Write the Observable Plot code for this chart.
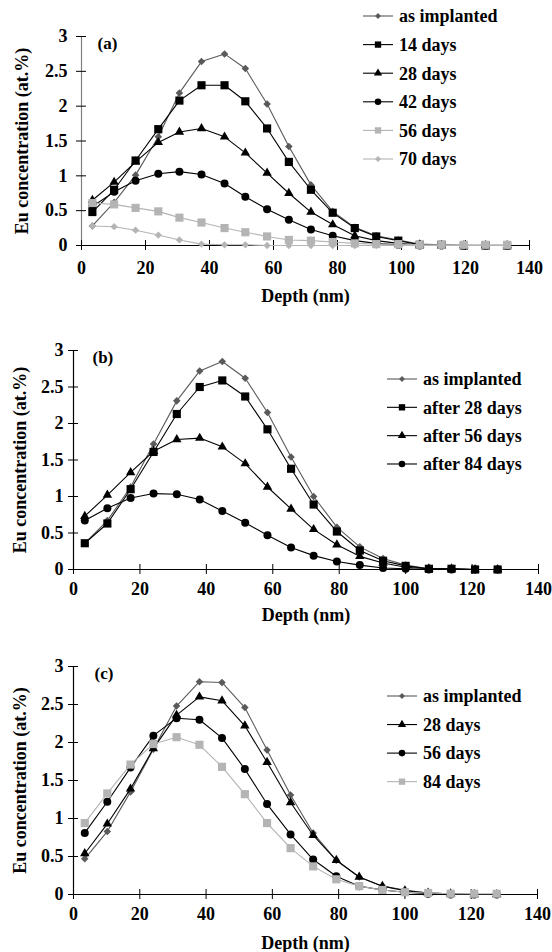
<!DOCTYPE html>
<html><head><meta charset="utf-8">
<script src="https://cdn.jsdelivr.net/npm/d3@7"></script>
<script src="https://cdn.jsdelivr.net/npm/@observablehq/plot@0.6"></script>
<style>body{margin:0;background:#fff}svg{display:block}</style>
</head><body><div id="chart"></div>
<script>
// ---------- data ----------
const xTicks = [0, 20, 40, 60, 80, 100, 120, 140];
const yTicks = [0, 0.5, 1, 1.5, 2, 2.5, 3];
const xLabel = "Depth (nm)";
const yLabel = "Eu concentration (at.%)";

// panel (a)
const depthA = [3.4,10.2,16.9,24.0,30.6,37.5,44.7,51.2,58.0,64.8,71.7,78.5,85.4,92.1,99.0,105.7,112.5,119.5,126.3,133.0];
const a_asImplanted = [0.28,0.62,1.01,1.56,2.19,2.64,2.75,2.54,2.03,1.42,0.87,0.49,0.26,0.14,0.08,0.02,0.01,0,0,0];
const a_14days = [0.48,0.80,1.22,1.67,2.08,2.30,2.30,2.07,1.68,1.20,0.80,0.47,0.25,0.13,0.07,0.01,0.01,0,0,0];
const a_28days = [0.65,0.91,1.20,1.48,1.63,1.68,1.56,1.33,1.04,0.75,0.48,0.30,0.14,0.07,0.03,0.01,0,0,0,0];
const a_42days = [0.56,0.77,0.93,1.03,1.06,1.02,0.89,0.70,0.52,0.37,0.23,0.14,0.07,0.03,0.01,0,0,0,0,0];
const a_56days = [0.61,0.59,0.54,0.49,0.40,0.33,0.25,0.19,0.13,0.08,0.07,0.05,0.03,0.02,0.02,0.01,0.01,0.01,0.01,0.01];
const a_70days = [0.28,0.27,0.22,0.15,0.08,0.02,0.01,0.01,0,0,0,0,0,0,0,0,0,0,0,0];
const namesA = ["as implanted","14 days","28 days","42 days","56 days","70 days"];

// panel (b)
const depthB = [3.4,10.2,17.2,24.1,31.1,38.0,44.8,51.7,58.4,65.5,72.3,79.3,86.2,93.2,100.0,107.0,113.8,120.9,127.7];
const b_asImplanted = [0.36,0.67,1.13,1.72,2.31,2.72,2.85,2.62,2.15,1.54,1.00,0.58,0.31,0.15,0.06,0.01,0.01,0,0];
const b_28days = [0.36,0.63,1.10,1.61,2.13,2.50,2.59,2.37,1.92,1.38,0.89,0.52,0.26,0.12,0.05,0.01,0.01,0,0];
const b_56days = [0.73,1.02,1.33,1.62,1.78,1.80,1.68,1.45,1.13,0.83,0.55,0.34,0.18,0.09,0.03,0.01,0.01,0,0];
const b_84days = [0.67,0.84,0.98,1.04,1.03,0.96,0.80,0.64,0.47,0.30,0.19,0.11,0.06,0.02,0.01,0,0,0,0];
const namesB = ["as implanted","after 28 days","after 56 days","after 84 days"];

// panel (c)
const depthC = [3.4,10.2,17.2,24.1,31.1,38.0,44.8,51.7,58.4,65.5,72.3,79.3,86.2,93.2,100.0,107.0,113.8,120.9,127.7];
const c_asImplanted = [0.47,0.83,1.35,1.91,2.48,2.80,2.79,2.46,1.90,1.31,0.81,0.45,0.23,0.11,0.06,0.02,0.01,0,0];
const c_28days = [0.54,0.93,1.39,1.92,2.36,2.60,2.55,2.22,1.74,1.21,0.78,0.45,0.23,0.11,0.05,0.02,0.01,0,0];
const c_56days = [0.81,1.22,1.67,2.09,2.32,2.30,2.06,1.65,1.19,0.79,0.46,0.24,0.11,0.06,0.03,0.01,0,0,0];
const c_84days = [0.94,1.33,1.71,1.98,2.07,1.97,1.68,1.32,0.94,0.61,0.37,0.20,0.11,0.06,0.03,0.02,0.01,0.01,0.01];
const namesC = ["as implanted","28 days","56 days","84 days"];

// ---------- styles ----------
const FONT = "'Liberation Serif', 'Times New Roman', serif";
const DARK = "#5a5a5a", BLACK = "#000000", LIGHT = "#b4b4b4";
const STY = {
  diamondDark: {symbol: "diamond2", color: DARK, r: 3.4, lsize: 22, d3sym: d3.symbolDiamond2},
  square: {symbol: "square", color: BLACK, r: 4.6, lsize: 40, d3sym: d3.symbolSquare},
  triangle: {symbol: "triangle", color: BLACK, r: 3.5, lsize: 30, d3sym: d3.symbolTriangle},
  circle: {symbol: "circle", color: BLACK, r: 4, lsize: 34, d3sym: d3.symbolCircle},
  squareLight: {symbol: "square", color: LIGHT, r: 4.6, lsize: 40, d3sym: d3.symbolSquare},
  diamondLight: {symbol: "diamond2", color: LIGHT, r: 3.3, lsize: 22, d3sym: d3.symbolDiamond2}
};

function makePanel(cfg) {
  const m = cfg.margin;
  const marks = [
    Plot.ruleY([0], {stroke: BLACK, strokeWidth: 1.2}),
    Plot.ruleX([0], {stroke: cfg.yAxisColor, strokeWidth: 1.2}),
    Plot.ruleX(xTicks, {y1: 0, y2: 0, insetTop: -5, insetBottom: -5, stroke: BLACK}),
    Plot.ruleY(yTicks, {x1: 0, x2: 0, insetLeft: -5, insetRight: -5, stroke: BLACK}),
    Plot.axisX({ticks: xTicks, tickSize: 0, tickPadding: cfg.xPad, tickFormat: d => String(d), label: null,
      fontSize: 18, fontWeight: "bold", fontFamily: FONT, fill: BLACK}),
    Plot.axisY({ticks: yTicks, tickSize: 0, tickPadding: cfg.yPad, tickFormat: d => String(d), label: null,
      fontSize: 18, fontWeight: "bold", fontFamily: FONT, fill: BLACK}),
    Plot.text([xLabel], {frameAnchor: "bottom", textAnchor: "middle", lineAnchor: "middle", dy: cfg.xLabelDy,
      fontSize: 18, fontWeight: "bold", fontFamily: FONT, fill: BLACK}),
    Plot.text([yLabel], {frameAnchor: "left", textAnchor: "middle", lineAnchor: "middle", rotate: -90, dx: cfg.yLabelDx,
      fontSize: 18, fontWeight: "bold", fontFamily: FONT, fill: BLACK}),
    Plot.text([cfg.tag], {frameAnchor: "top-left", textAnchor: "start", lineAnchor: "top", dx: cfg.tagDx, dy: cfg.tagDy,
      fontSize: 17, fontWeight: "bold", fontFamily: FONT, fill: BLACK})
  ];
  cfg.series.forEach(s => {
    const rows = cfg.depth.map((d, i) => ({depth: d, value: s.values[i]})).filter(r => r.value != null);
    marks.push(Plot.line(rows, {x: "depth", y: "value", stroke: s.style.color, strokeWidth: 1.1}));
    marks.push(Plot.dot(rows, {x: "depth", y: "value", symbol: s.style.symbol, r: s.style.r, fill: s.style.color, stroke: "none"}));
  });
  const svg = Plot.plot({
    width: 552, height: cfg.height,
    marginTop: m[0], marginRight: m[1], marginBottom: m[2], marginLeft: m[3],
    x: {domain: [0, 140]},
    y: {domain: [0, 3]},
    style: {background: "#fff", color: "#000", fontFamily: FONT},
    marks
  });
  // legend
  const g = d3.select(svg).append("g").attr("text-anchor", "start");
  cfg.series.forEach((s, i) => {
    const y = cfg.legend.y0 + i * cfg.legend.dy;
    const x1 = cfg.legend.x1, x2 = cfg.legend.x2;
    g.append("line").attr("x1", x1).attr("x2", x2).attr("y1", y).attr("y2", y)
      .attr("stroke", s.style.color).attr("stroke-width", 1.1);
    g.append("path").attr("d", d3.symbol(s.style.d3sym, s.style.lsize)())
      .attr("transform", `translate(${(x1 + x2) / 2},${y})`).attr("fill", s.style.color);
    g.append("text").attr("x", cfg.legend.tx).attr("y", y).attr("dy", "0.35em")
      .attr("text-anchor", "start")
      .attr("font-family", FONT).attr("font-size", 18).attr("font-weight", "bold").attr("fill", BLACK)
      .text(s.name);
  });
  return svg;
}

const root = document.getElementById("chart");
root.appendChild(makePanel({
  height: 310, margin: [36, 23, 65, 81], depth: depthA, tag: "(a)", tagDx: 16, tagDy: 0,
  yAxisColor: "#808080", xPad: 16, yPad: 14, xLabelDy: 51, yLabelDx: -59,
  legend: {y0: 16, dy: 28.6, x1: 363, x2: 393, tx: 399},
  series: [
    {name: namesA[0], values: a_asImplanted, style: STY.diamondDark},
    {name: namesA[1], values: a_14days, style: STY.square},
    {name: namesA[2], values: a_28days, style: STY.triangle},
    {name: namesA[3], values: a_42days, style: STY.circle},
    {name: namesA[4], values: a_56days, style: STY.squareLight},
    {name: namesA[5], values: a_70days, style: STY.diamondLight}
  ]
}));
root.appendChild(makePanel({
  height: 320, margin: [40, 14, 61, 73], depth: depthB, tag: "(b)", tagDx: 19, tagDy: 0,
  yAxisColor: BLACK, xPad: 13, yPad: 10, xLabelDy: 46, yLabelDx: -53,
  legend: {y0: 69, dy: 28.33, x1: 387, x2: 417, tx: 423},
  series: [
    {name: namesB[0], values: b_asImplanted, style: STY.diamondDark},
    {name: namesB[1], values: b_28days, style: STY.square},
    {name: namesB[2], values: b_56days, style: STY.triangle},
    {name: namesB[3], values: b_84days, style: STY.circle}
  ]
}));
root.appendChild(makePanel({
  height: 322, margin: [36, 15, 58, 73], depth: depthC, tag: "(c)", tagDx: 21, tagDy: 0,
  yAxisColor: BLACK, xPad: 13, yPad: 10, xLabelDy: 49, yLabelDx: -53,
  legend: {y0: 66, dy: 28.55, x1: 387, x2: 417, tx: 423},
  series: [
    {name: namesC[0], values: c_asImplanted, style: STY.diamondDark},
    {name: namesC[1], values: c_28days, style: STY.triangle},
    {name: namesC[2], values: c_56days, style: STY.circle},
    {name: namesC[3], values: c_84days, style: STY.squareLight}
  ]
}));
</script></body></html>
